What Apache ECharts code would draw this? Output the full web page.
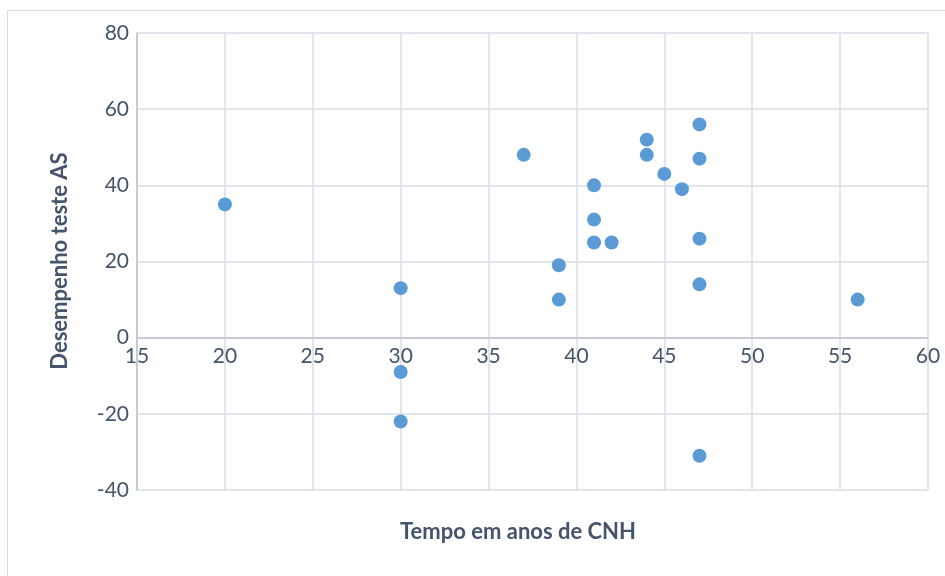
<!DOCTYPE html>
<html>
<head>
<meta charset="utf-8">
<script src="https://cdn.jsdelivr.net/npm/echarts@6/dist/echarts.min.js"></script>
<style>
  html, body { margin: 0; padding: 0; background: #fff; }
  #chart { width: 945px; height: 576px; }
</style>
</head>
<body>
<div id="chart"></div>
<script>
// Years holding a driver's licence (CNH) and the AS test score for each driver
const tempoAnos = [20, 30, 30, 30, 37, 39, 39, 41, 41, 41, 42, 44, 44, 45, 46, 47, 47, 47, 47, 47, 56];
const desempenho = [35, 13, -9, -22, 48, 19, 10, 40, 31, 25, 25, 52, 48, 43, 39, 56, 47, 26, 14, -31, 10];

const xTitle = 'Tempo em anos de CNH';
const yTitle = 'Desempenho teste AS';

const xMin = 15, xMax = 60, xStep = 5;
const yMin = -40, yMax = 80, yStep = 20;

const textColor = '#44546A';
const gridColor = '#D9DDE5';
const axisColor = '#BCC3CE';
const font = 'Lato, "Open Sans", sans-serif';

const grid = { left: 137, right: 17, top: 33, bottom: 86 };
const plotHeight = 576 - grid.top - grid.bottom;
// The horizontal axis (line and labels) sits on y = 0 rather than at the bottom edge
const xAxisLift = -plotHeight * (0 - yMin) / (yMax - yMin);

const points = tempoAnos.map((t, i) => [t, desempenho[i]]);

const chart = echarts.init(document.getElementById('chart'));
chart.setOption({
  animation: false,
  backgroundColor: '#fff',
  grid: Object.assign({ containLabel: false }, grid),
  xAxis: {
    type: 'value',
    min: xMin, max: xMax, interval: xStep,
    offset: xAxisLift,
    axisLine: { show: true, onZero: false, lineStyle: { color: axisColor, width: 1.5 } },
    axisTick: { show: false },
    axisLabel: { color: textColor, fontSize: 21, fontFamily: font, margin: 8 },
    splitLine: { show: true, lineStyle: { color: gridColor, width: 1.5 } }
  },
  yAxis: {
    type: 'value',
    min: yMin, max: yMax, interval: yStep,
    axisLine: { show: true, lineStyle: { color: axisColor, width: 1.5 } },
    axisTick: { show: false },
    axisLabel: { color: textColor, fontSize: 21, fontFamily: font, margin: 8 },
    splitLine: { show: true, lineStyle: { color: gridColor, width: 1.5 } }
  },
  series: [{
    type: 'scatter',
    data: points,
    symbolSize: 14,
    itemStyle: { color: '#5B9BD5', opacity: 1 }
  }],
  graphic: [
    {
      type: 'rect', silent: true, z: -1,
      shape: { x: 7.5, y: 10.5, width: 950, height: 600 },
      style: { fill: 'none', stroke: '#D9D9D9', lineWidth: 1 }
    },
    {
      type: 'text', x: 518, y: 532,
      style: {
        text: xTitle, fill: textColor, font: 'bold 22px ' + font,
        textAlign: 'center', textVerticalAlign: 'middle'
      }
    },
    {
      type: 'text', x: 60, y: 261, rotation: Math.PI / 2,
      style: {
        text: yTitle, fill: textColor, font: 'bold 22px ' + font,
        textAlign: 'center', textVerticalAlign: 'middle'
      }
    }
  ]
});
</script>
</body>
</html>
